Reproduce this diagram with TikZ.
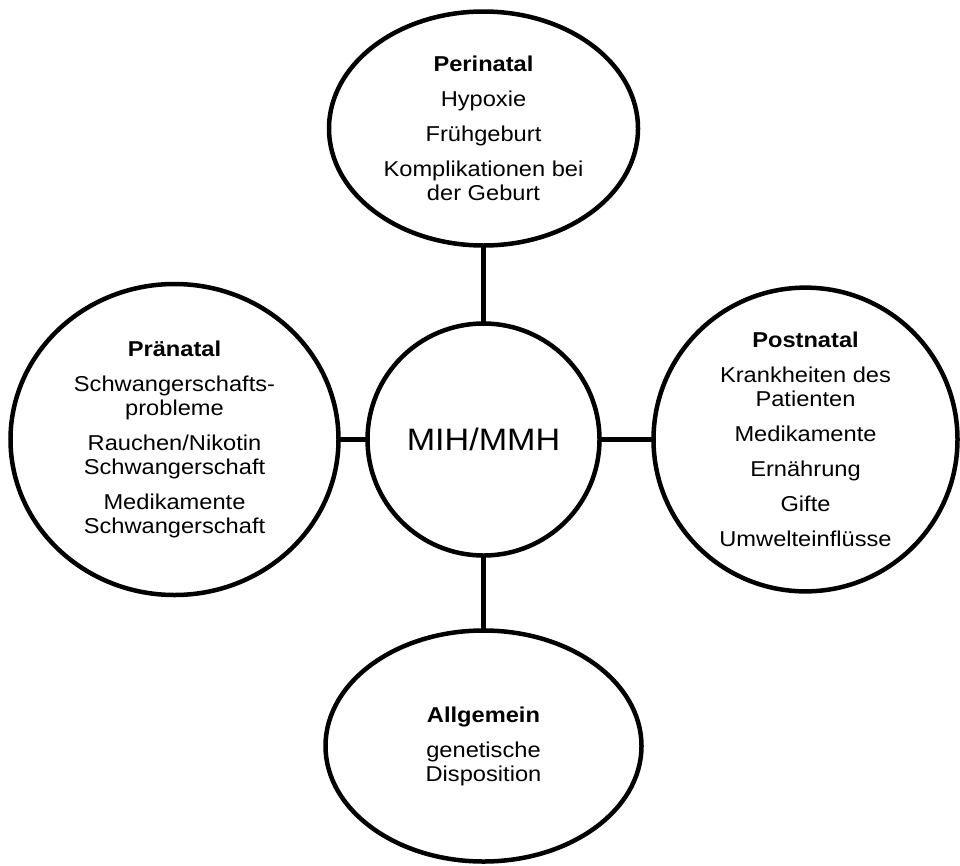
\documentclass[tikz,border=0pt]{standalone}
\usepackage{fontspec}
\setmainfont{Liberation Sans}[FakeStretch=1.1]
\usetikzlibrary{shapes.geometric,positioning}

\begin{document}
\begin{tikzpicture}[x=1pt,y=1pt]

    \tikzstyle{cause} = [ellipse, draw, line width=4.5pt, align=center, inner sep=0pt, outer sep=0pt, font=\fontsize{21.5}{24}\selectfont]
    \tikzstyle{core} = [circle, draw, line width=4.5pt, inner sep=0pt, outer sep=0pt, minimum size=232pt, font=\fontsize{31}{36}\selectfont]
    \tikzstyle{link} = [line width=4.5pt]

    \useasboundingbox (0,0) rectangle (960,-865);

    \node (mih) [core] at (483.5,-439.5) {MIH/MMH};

    \node (peri) [cause, minimum width=309pt, minimum height=234pt, above=78pt of mih] {\textbf{Perinatal}\\[11pt] Hypoxie\\[11pt] Frühgeburt\\[11pt] Komplikationen bei\\ der Geburt};

    \node (prae) [cause, minimum width=328pt, minimum height=311pt, left=29pt of mih] {\textbf{Pränatal}\\[11pt] Schwangerschafts-\\ probleme\\[11pt] Rauchen/Nikotin\\ Schwangerschaft\\[11pt] Medikamente\\ Schwangerschaft};

    \node (post) [cause, minimum width=304pt, minimum height=283pt, right=54pt of mih] {\textbf{Postnatal}\\[11pt] Krankheiten des\\ Patienten\\[11pt] Medikamente\\[11pt] Ernährung\\[11pt] Gifte\\[11pt] Umwelteinflüsse};

    \node (allg) [cause, minimum width=316pt, minimum height=231pt, below=75pt of mih] {\textbf{Allgemein}\\[11pt] genetische\\ Disposition};

    \draw [link] (mih) -- (peri);
    \draw [link] (mih) -- (prae);
    \draw [link] (mih) -- (post);
    \draw [link] (mih) -- (allg);

\end{tikzpicture}
\end{document}
